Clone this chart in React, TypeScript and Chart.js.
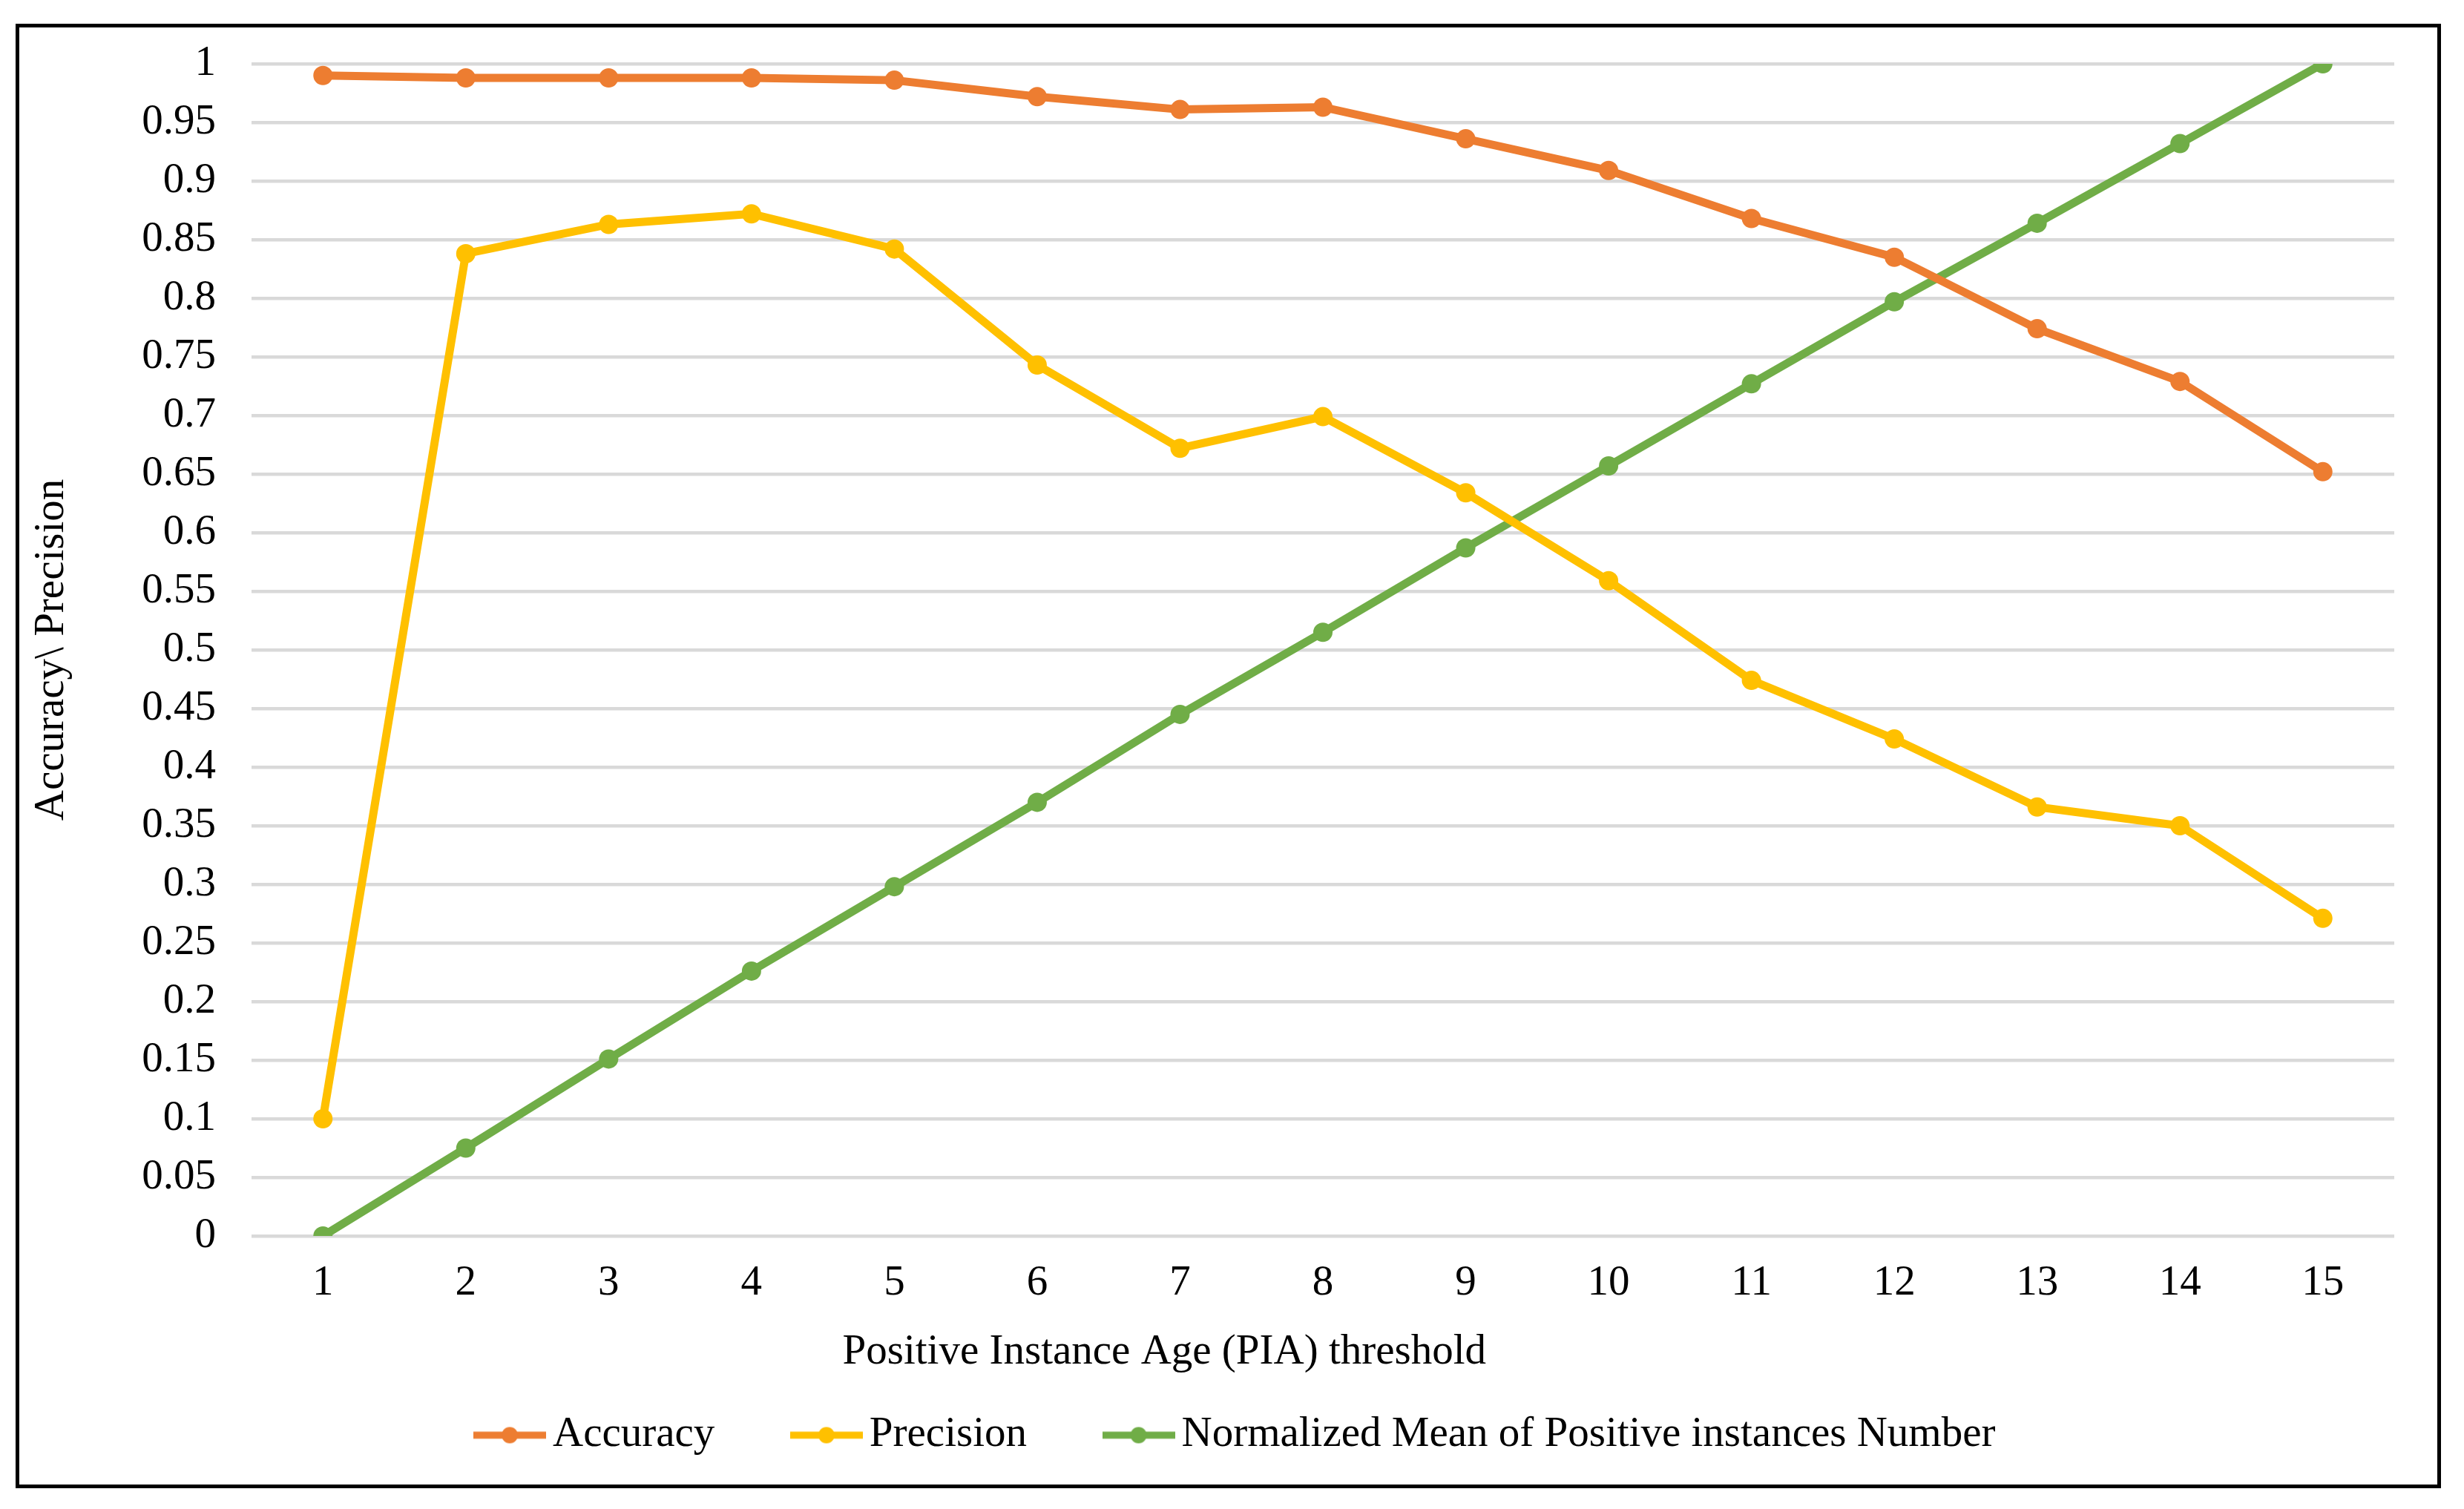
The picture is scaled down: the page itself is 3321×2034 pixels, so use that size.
import React, { useEffect, useRef } from "react";
import { Chart, registerables } from "chart.js";

Chart.register(...registerables);

const categories = ["1", "2", "3", "4", "5", "6", "7", "8", "9", "10", "11", "12", "13", "14", "15"];
const accuracy = [0.99, 0.988, 0.988, 0.988, 0.986, 0.972, 0.961, 0.963, 0.936, 0.909, 0.868, 0.835, 0.774, 0.729, 0.652];
const precision = [0.1, 0.838, 0.863, 0.872, 0.842, 0.743, 0.672, 0.699, 0.634, 0.559, 0.474, 0.424, 0.366, 0.35, 0.271];
const normalizedMean = [0, 0.075, 0.151, 0.226, 0.298, 0.37, 0.445, 0.515, 0.587, 0.657, 0.727, 0.797, 0.864, 0.932, 1.0];
const yTickValues = [0, 0.05, 0.1, 0.15, 0.2, 0.25, 0.3, 0.35, 0.4, 0.45, 0.5, 0.55, 0.6, 0.65, 0.7, 0.75, 0.8, 0.85, 0.9, 0.95, 1];
const yTickLabels = ["0", "0.05", "0.1", "0.15", "0.2", "0.25", "0.3", "0.35", "0.4", "0.45", "0.5", "0.55", "0.6", "0.65", "0.7", "0.75", "0.8", "0.85", "0.9", "0.95", "1"];
const xTitle = "Positive Instance Age (PIA) threshold";
const yTitle = "Accuracy\\ Precision";

const W = 3321;
const H = 2034;
const FONT = "'Liberation Serif', 'Times New Roman', serif";
const FS = 57;

function legendMarker(color: string): HTMLCanvasElement {
  const c = document.createElement("canvas");
  c.width = 98;
  c.height = 26;
  const ctx = c.getContext("2d")!;
  ctx.strokeStyle = color;
  ctx.lineWidth = 9.5;
  ctx.beginPath();
  ctx.moveTo(0, 13);
  ctx.lineTo(98, 13);
  ctx.stroke();
  ctx.fillStyle = color;
  ctx.beginPath();
  ctx.arc(49, 13, 11, 0, Math.PI * 2);
  ctx.fill();
  return c;
}

const xTitlePlugin = {
  id: "xTitlePlugin",
  afterDraw(chart: any) {
    const { ctx, chartArea } = chart;
    ctx.save();
    ctx.font = `${FS}px ${FONT}`;
    ctx.fillStyle = "#000";
    ctx.textAlign = "center";
    ctx.textBaseline = "middle";
    const x = chartArea.left + (chartArea.right - chartArea.left) * 0.426;
    ctx.fillText(xTitle, x, chartArea.bottom + 157);
    ctx.restore();
  },
};

export default function App() {
  const ref = useRef<HTMLCanvasElement>(null);
  useEffect(() => {
    document.body.style.margin = "0";
    const canvas = ref.current!;
    const colors = ["#ED7D31", "#FFC000", "#70AD47"];
    const markers = colors.map(legendMarker);
    const mk = (label: string, data: number[], i: number) => ({
      label,
      data,
      borderColor: colors[i],
      backgroundColor: colors[i],
      borderWidth: 11,
      pointRadius: 13,
      pointHoverRadius: 13,
      pointBorderWidth: 0,
      pointStyle: "circle" as const,
      tension: 0,
      fill: false,
    });
    const chart = new Chart(canvas, {
      type: "line",
      data: {
        labels: categories,
        datasets: [
          mk("Accuracy", accuracy, 0),
          mk("Precision", precision, 1),
          mk("Normalized Mean of Positive instances Number", normalizedMean, 2),
        ],
      },
      plugins: [xTitlePlugin],
      options: {
        animation: false,
        responsive: false,
        devicePixelRatio: 1,
        layout: { padding: { top: 86, right: 94, left: 120, bottom: 61 } },
        plugins: {
          tooltip: { enabled: false },
          legend: {
            position: "bottom",
            labels: {
              font: { family: FONT, size: FS },
              color: "#000",
              usePointStyle: true,
              pointStyleWidth: 59,
              padding: 121,
              generateLabels: (ch: any) =>
                ch.data.datasets.map((d: any, i: number) => ({
                  text: d.label,
                  fillStyle: colors[i],
                  strokeStyle: colors[i],
                  lineWidth: 0,
                  pointStyle: markers[i],
                  datasetIndex: i,
                  hidden: false,
                  fontColor: "#000",
                })),
            },
          },
        },
        scales: {
          x: {
            offset: true,
            grid: { display: false, drawTicks: false },
            border: { display: false },
            ticks: { font: { family: FONT, size: FS }, color: "#000", padding: 30, maxRotation: 0 },
            title: { display: false },
            afterFit: (s: any) => {
              s.height = 119;
            },
          },
          y: {
            min: 0,
            max: 1,
            afterBuildTicks: (s: any) => {
              s.ticks = yTickValues.map((v) => ({ value: v }));
            },
            grid: { color: "#D9D9D9", lineWidth: 4.5, drawTicks: false },
            border: { display: false },
            ticks: {
              font: { family: FONT, size: FS },
              color: "#000",
              padding: 48,
              callback: (_v: any, i: number) => yTickLabels[i],
            },
            title: {
              display: true,
              text: yTitle,
              font: { family: FONT, size: FS },
              color: "#000",
              padding: { top: -84, bottom: 0 },
            },
            afterFit: (s: any) => {
              s.width = 219;
            },
          },
        },
      },
    });
    return () => chart.destroy();
  }, []);
  return (
    <div style={{ position: "relative", width: W, height: H, background: "#fff" }}>
      <canvas ref={ref} width={W} height={H} style={{ width: W, height: H, display: "block" }} />
      <div
        style={{
          position: "absolute",
          left: 21,
          top: 32,
          width: 3269,
          height: 1974,
          border: "5px solid #000",
          boxSizing: "border-box",
          pointerEvents: "none",
        }}
      />
    </div>
  );
}
